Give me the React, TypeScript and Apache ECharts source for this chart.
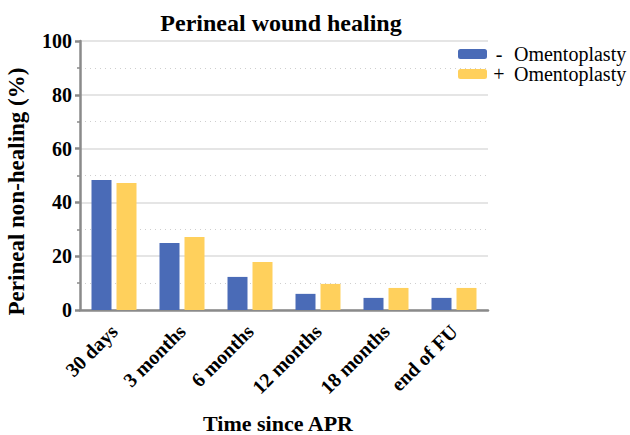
import React, { useEffect, useRef } from "react";
import * as echarts from "echarts";

const categories = ["30 days", "3 months", "6 months", "12 months", "18 months", "end of FU"];
const withoutOmento = [48.3, 24.9, 12.3, 6.0, 4.5, 4.5];
const withOmento = [47.2, 27.1, 17.8, 9.7, 8.2, 8.2];
const seriesNames = ["- Omentoplasty", "+ Omentoplasty"];

const FONT = "Liberation Serif";

export default function App() {
  const ref = useRef<HTMLDivElement>(null);
  useEffect(() => {
    if (!ref.current) return;
    const chart = echarts.init(ref.current, undefined, { renderer: "svg" });
    chart.setOption({
      animation: false,
      title: {
        text: "Perineal wound healing",
        left: 276,
        textAlign: "center",
        top: 6,
        textStyle: { fontFamily: FONT, fontWeight: "bold", fontSize: 24, color: "#000" },
      },
      legend: {
        left: 458,
        top: 44,
        padding: 0,
        orient: "vertical",
        itemWidth: 29,
        itemHeight: 10,
        itemGap: 0,
        data: seriesNames,
        formatter: (name: string) => {
          const i = name.indexOf(" ");
          return `{s|${name.slice(0, i)}}{t|${name.slice(i + 1)}}`;
        },
        textStyle: {
          fontFamily: FONT,
          fontSize: 20,
          color: "#000",
          rich: {
            s: { fontFamily: FONT, fontSize: 20, color: "#000", width: 14, align: "center" },
            t: { fontFamily: FONT, fontSize: 20, color: "#000", padding: [0, 0, 0, 8] },
          },
        },
      },
      grid: { left: 80, right: 142, top: 41, bottom: 125, containLabel: false, outerBoundsMode: "none" },
      xAxis: {
        type: "category",
        data: categories,
        name: "Time since APR",
        nameLocation: "middle",
        nameGap: 102,
        nameTextStyle: {
          fontFamily: FONT,
          fontWeight: "bold",
          fontSize: 22,
          color: "#000",
          padding: [0, 12, 0, 0],
        },
        axisLine: { lineStyle: { color: "#8a8a8a", width: 2.5 } },
        axisTick: { alignWithLabel: true, length: 6, lineStyle: { color: "#8a8a8a", width: 2.5 } },
        axisLabel: {
          rotate: 45,
          margin: 18,
          fontFamily: FONT,
          fontWeight: "bold",
          fontSize: 20,
          color: "#000",
        },
      },
      yAxis: {
        type: "value",
        min: 0,
        max: 100,
        interval: 20,
        name: "Perineal non-healing (%)",
        nameLocation: "middle",
        nameGap: 52,
        nameTextStyle: {
          fontFamily: FONT,
          fontWeight: "bold",
          fontSize: 23,
          color: "#000",
          padding: [0, 32, 0, 0],
        },
        axisLine: { show: true, lineStyle: { color: "#8a8a8a", width: 2.5 } },
        axisTick: { show: true, length: 5, lineStyle: { color: "#8a8a8a", width: 2.5 } },
        minorTick: { show: true, splitNumber: 2, length: 3, lineStyle: { color: "#8a8a8a", width: 1.5 } },
        axisLabel: { margin: 8, fontFamily: FONT, fontWeight: "bold", fontSize: 20, color: "#000" },
        splitLine: { show: true, lineStyle: { color: "#dcdcdc", width: 1.5 } },
        minorSplitLine: { show: true, lineStyle: { color: "#cfcfcf", width: 1, type: [1, 4] } },
      },
      series: [
        {
          name: seriesNames[0],
          type: "bar",
          data: withoutOmento,
          barWidth: 20,
          barGap: "25%",
          itemStyle: { color: "#4A6BB7" },
        },
        {
          name: seriesNames[1],
          type: "bar",
          data: withOmento,
          barWidth: 20,
          barGap: "25%",
          itemStyle: { color: "#FFD05C" },
        },
      ],
    });
    return () => chart.dispose();
  }, []);
  return <div ref={ref} style={{ width: 630, height: 435, position: "absolute", left: 0, top: 0 }} />;
}
